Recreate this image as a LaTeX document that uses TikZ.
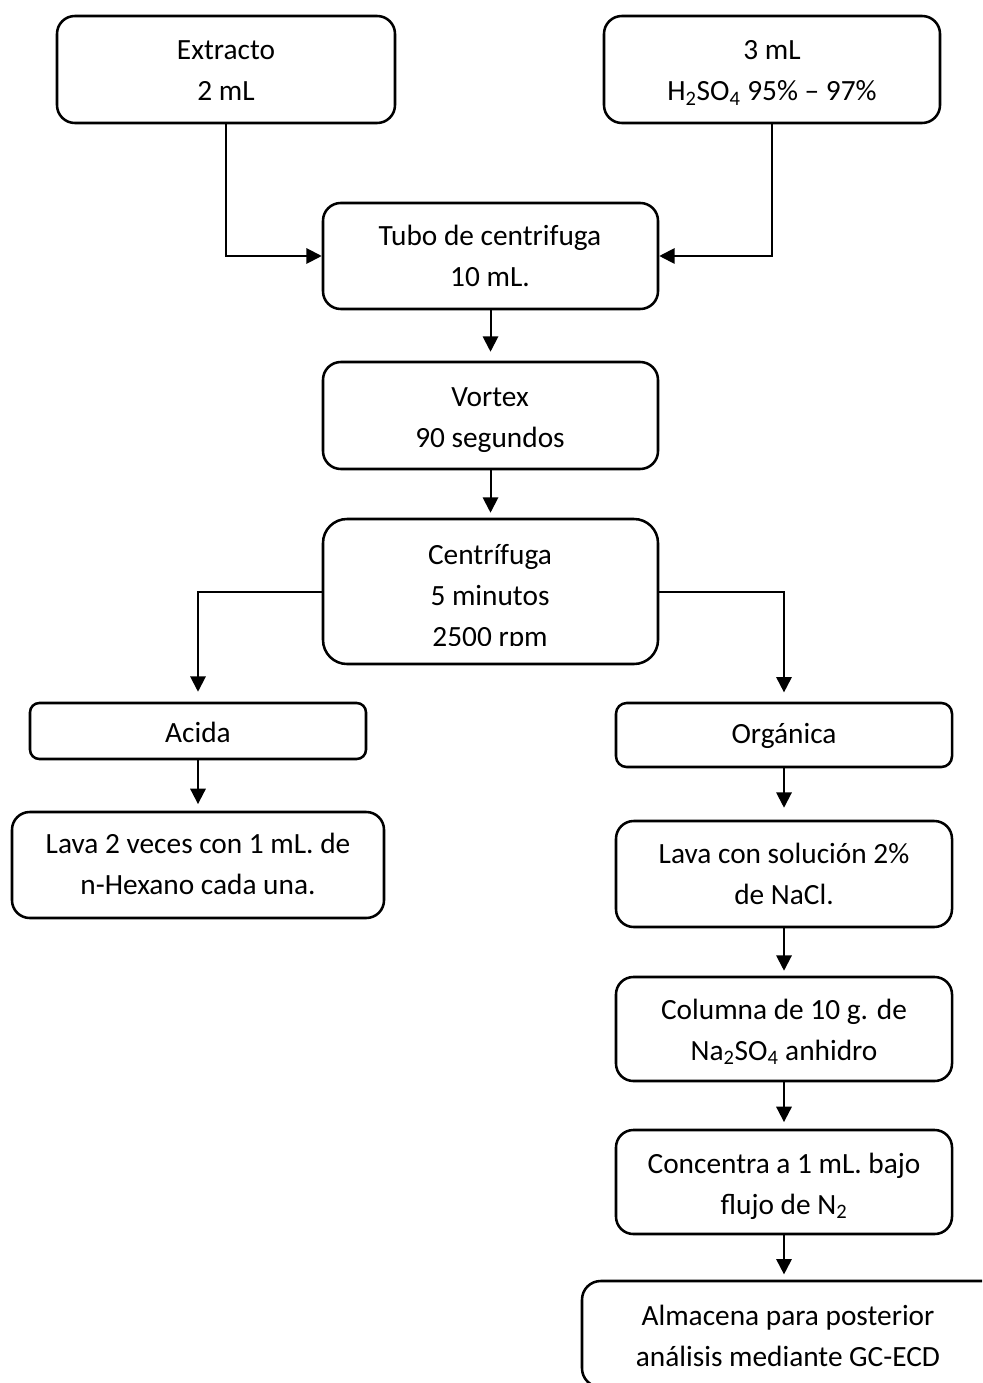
\documentclass[tikz,border=0pt]{standalone}
\usepackage{fontspec}
\setmainfont{Carlito}
\usetikzlibrary{arrows.meta,fit}
\begin{document}
\begin{tikzpicture}[x=0.75pt,y=-0.75pt,
  box/.style={draw, line width=1.9pt, inner sep=0pt, rounded corners=#1},
  txt/.style={anchor=base, inner sep=0pt, font=\fontsize{22pt}{30.75pt}\selectfont},
  conn/.style={line width=1.5pt, -{Triangle[length=11.5pt,width=11.5pt]}}]
\useasboundingbox (0,0) rectangle (982,1383);
\clip (0,0) rectangle (982,1383);
\fill[white] (0,0) rectangle (982,1383);

% boxes
\node[box=13.4pt, fit={(57,16) (395,123)}] (ext) {};
\node[box=13.4pt, fit={(604,16) (940,123)}] (acd) {};
\node[box=13.3pt, fit={(323,203) (658,309)}] (tubo) {};
\node[box=13.4pt, fit={(323,362) (658,469)}] (vort) {};
\node[box=18pt, fit={(323,519) (658,664)}] (cent) {};
\node[box=7pt, fit={(30,703) (366,759)}] (acida) {};
\node[box=8pt, fit={(616,703) (952,767)}] (org) {};
\node[box=13.3pt, fit={(12,812) (384,918)}] (lava) {};
\node[box=13.3pt, fit={(616,821) (952,927)}] (lavc) {};
\node[box=13pt, fit={(616,977) (952,1081)}] (col) {};
\node[box=13pt, fit={(616,1130) (952,1234)}] (conc) {};
\node[box=14pt, fit={(582,1281) (1010,1387)}] (alm) {};

% texts
\node[txt] (ext-t) at (226,60) {\begin{tabular}[t]{@{}c@{}}Extracto\\2 mL\end{tabular}};
\node[txt] (acd-t) at (772,60) {\begin{tabular}[t]{@{}c@{}}3 mL\\H\textsubscript{2}SO\textsubscript{4} 95\% – 97\%\end{tabular}};
\node[txt] (tubo-t) at (490,246) {\begin{tabular}[t]{@{}c@{}}Tubo de centrifuga\\10 mL.\end{tabular}};
\node[txt] (vort-t) at (490,406) {\begin{tabular}[t]{@{}c@{}}Vortex\\90 segundos\end{tabular}};
\begin{scope}
\clip (323,519) rectangle (658,645);
\node[txt] (cent-t) at (490,564) {\begin{tabular}[t]{@{}c@{}}Centrífuga\\5 minutos\\2500 rpm\end{tabular}};
\end{scope}
\node[txt] (acida-t) at (198,742) {Acida};
\node[txt] (org-t) at (784,743) {Orgánica};
\node[txt] (lava-t) at (198,853) {\begin{tabular}[t]{@{}c@{}}Lava 2 veces con 1 mL. de\\n-Hexano cada una.\end{tabular}};
\node[txt] (lavc-t) at (784,863) {\begin{tabular}[t]{@{}c@{}}Lava con solución 2\%\\de NaCl.\end{tabular}};
\node[txt] (col-t) at (784,1019) {\begin{tabular}[t]{@{}c@{}}Columna de 10 g. de\\Na\textsubscript{2}SO\textsubscript{4} anhidro\end{tabular}};
\node[txt] (conc-t) at (784,1173) {\begin{tabular}[t]{@{}c@{}}Concentra a 1 mL. bajo\\flujo de N\textsubscript{2}\end{tabular}};
\node[txt] (alm-t) at (788,1325) {\begin{tabular}[t]{@{}c@{}}Almacena para posterior\\análisis mediante GC-ECD\end{tabular}};

% connectors
\draw[conn] (ext.south) |- (tubo.west);
\draw[conn] (acd.south) |- (tubo.east);
\draw[conn, shorten >=6.75pt] (tubo.south) -- (vort.north);
\draw[conn, shorten >=3.75pt] (vort.south) -- (cent.north);
\draw[conn, shorten >=7.5pt] (cent.west) -| (acida.north);
\draw[conn, shorten >=7pt] (cent.east) -| (org.north);
\draw[conn, shorten >=5pt] (acida.south) -- (lava.north);
\draw[conn, shorten >=9pt] (org.south) -- (lavc.north);
\draw[conn, shorten >=3.75pt] (lavc.south) -- (col.north);
\draw[conn, shorten >=5pt] (col.south) -- (conc.north);
\draw[conn, shorten >=4pt] (conc.south) -- (conc.south |- alm.north);
\end{tikzpicture}
\end{document}
